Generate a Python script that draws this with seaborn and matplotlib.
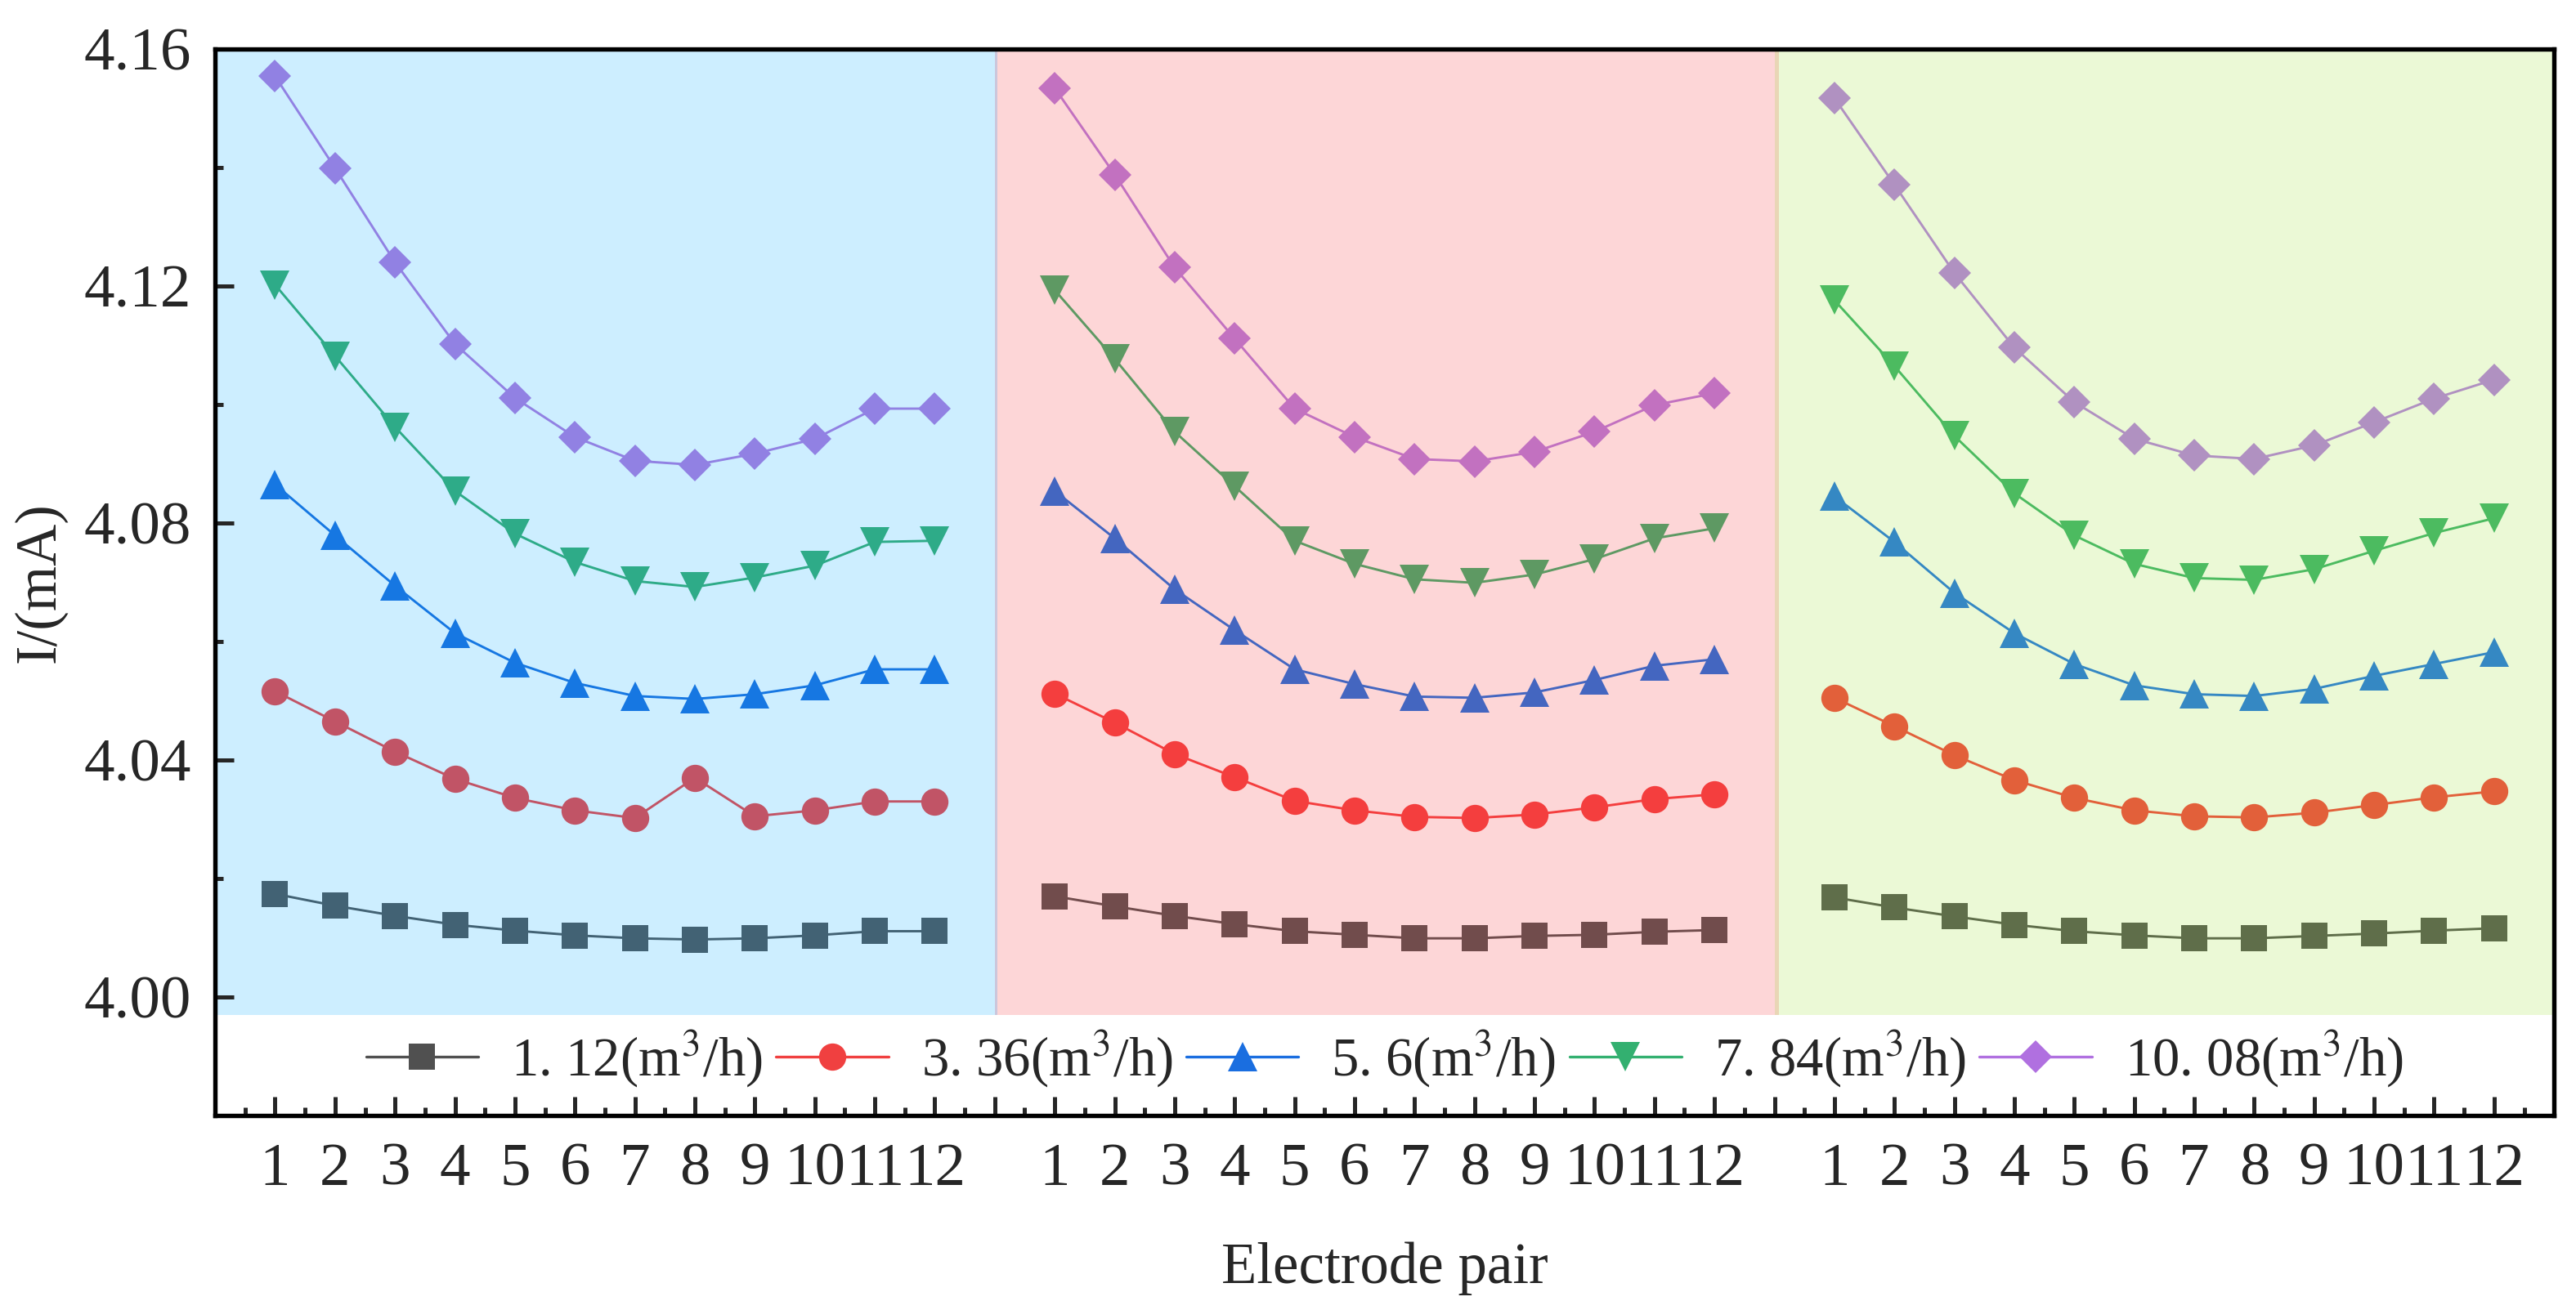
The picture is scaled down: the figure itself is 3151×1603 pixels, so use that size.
import numpy as np
import pandas as pd
import matplotlib
matplotlib.use("Agg")
import matplotlib.pyplot as plt
from matplotlib.lines import Line2D
from matplotlib.ticker import MultipleLocator
import seaborn as sns

# datos: 3 bloques de 12 pares de electrodos
electrodos = list(range(1, 13))
caudales = ["1. 12(m$^3$/h)", "3. 36(m$^3$/h)", "5. 6(m$^3$/h)", "7. 84(m$^3$/h)", "10. 08(m$^3$/h)"]

i_112 = [4.0174, 4.0154, 4.0137, 4.0122, 4.0112, 4.0104, 4.0099, 4.0097, 4.0099, 4.0104, 4.0111, 4.0111,
         4.0170, 4.0153, 4.0137, 4.0123, 4.0111, 4.0105, 4.0099, 4.0099, 4.0103, 4.0105, 4.0110, 4.0113,
         4.0168, 4.0151, 4.0136, 4.0122, 4.0111, 4.0104, 4.0099, 4.0099, 4.0103, 4.0107, 4.0112, 4.0116]
i_336 = [4.0516, 4.0465, 4.0414, 4.0368, 4.0336, 4.0315, 4.0302, 4.0370, 4.0305, 4.0315, 4.0330, 4.0330,
         4.0512, 4.0463, 4.0410, 4.0371, 4.0331, 4.0315, 4.0304, 4.0302, 4.0308, 4.0320, 4.0334, 4.0342,
         4.0505, 4.0457, 4.0408, 4.0366, 4.0336, 4.0315, 4.0305, 4.0303, 4.0311, 4.0324, 4.0337, 4.0347]
i_560 = [4.0865, 4.0779, 4.0694, 4.0614, 4.0564, 4.0530, 4.0508, 4.0503, 4.0511, 4.0526, 4.0553, 4.0553,
         4.0854, 4.0774, 4.0688, 4.0619, 4.0553, 4.0528, 4.0507, 4.0505, 4.0514, 4.0535, 4.0559, 4.0570,
         4.0845, 4.0768, 4.0682, 4.0614, 4.0562, 4.0526, 4.0511, 4.0508, 4.0520, 4.0542, 4.0562, 4.0582]
i_784 = [4.1202, 4.1082, 4.0962, 4.0854, 4.0782, 4.0734, 4.0702, 4.0692, 4.0708, 4.0728, 4.0768, 4.0770,
         4.1193, 4.1077, 4.0954, 4.0862, 4.0770, 4.0731, 4.0705, 4.0699, 4.0713, 4.0739, 4.0774, 4.0791,
         4.1176, 4.1065, 4.0947, 4.0850, 4.0779, 4.0731, 4.0707, 4.0704, 4.0722, 4.0753, 4.0783, 4.0808]
i_1008 = [4.1554, 4.1399, 4.1240, 4.1102, 4.1011, 4.0945, 4.0905, 4.0898, 4.0917, 4.0942, 4.0993, 4.0993,
          4.1534, 4.1388, 4.1231, 4.1111, 4.0993, 4.0945, 4.0908, 4.0904, 4.0920, 4.0954, 4.0999, 4.1019,
          4.1517, 4.1371, 4.1222, 4.1096, 4.1004, 4.0942, 4.0914, 4.0908, 4.0931, 4.0970, 4.1010, 4.1042]
series = [i_112, i_336, i_560, i_784, i_1008]

# tabla larga para seaborn
filas = []
for nombre, valores in zip(caudales, series):
    for k in range(3):
        for j, e in enumerate(electrodos):
            filas.append({"caudal": nombre, "bloque": k, "pos": 13 * k + e, "I": valores[12 * k + j]})
df = pd.DataFrame(filas)

# estilos
marcadores = ["s", "o", "^", "v", "D"]
tam_marc = [7.5, 8, 8.8, 8.8, 6.8]
colores_leyenda = ["#505050", "#f04040", "#1a6ee0", "#33b070", "#b070e0"]
colores_bloque = [
    ["#426274", "#c15466", "#1677e2", "#2eab88", "#9181e3"],
    ["#714c4c", "#f43e3e", "#4466c0", "#5e9963", "#c271c0"],
    ["#5f6e4a", "#e2603a", "#3588c3", "#4cbb60", "#b091c1"],
]
fondos = ["#cdeeff", "#fdd6d7", "#ebf9d6"]

sns.set_style("ticks")
plt.rcParams["font.family"] = ["Liberation Serif", "DejaVu Serif"]
plt.rcParams["mathtext.fontset"] = "stix"

fig = plt.figure(figsize=(3151 / 300, 1603 / 300), dpi=300)
ax = fig.add_axes([0.0835, 0.1485, 0.908, 0.8141])

# fondos de color por bloque
for k in range(3):
    ax.fill_between([13 * k, 13 * k + 13], 3.997, 4.16, color=fondos[k], lw=0, zorder=0)
ax.fill_between([13, 13.04], 3.997, 4.16, color="#cbc7dc", lw=0, zorder=0)
ax.fill_between([26, 26.08], 3.997, 4.16, color="#e9d6b6", lw=0, zorder=0)

for k in range(3):
    for s, nombre in enumerate(caudales):
        sub = df[(df["bloque"] == k) & (df["caudal"] == nombre)]
        sns.lineplot(data=sub, x="pos", y="I", ax=ax, color=colores_bloque[k][s],
                     marker=marcadores[s], markersize=tam_marc[s], markeredgewidth=0,
                     linewidth=0.7, errorbar=None, legend=False, zorder=3)

ax.set_xlim(0, 39)
ax.set_ylim(3.98, 4.16)

# ticks del eje x: todos los enteros, etiquetas solo en los pares de electrodos
pos_ticks = list(range(0, 40))
etiquetas = []
for p in pos_ticks:
    r = p % 13
    etiquetas.append(str(r) if r != 0 else "")
ax.set_xticks(pos_ticks)
ax.set_xticklabels(etiquetas)
ax.xaxis.set_minor_locator(MultipleLocator(0.5))
ax.set_yticks([4.00, 4.04, 4.08, 4.12, 4.16])
ax.set_yticklabels(["4.00", "4.04", "4.08", "4.12", "4.16"])
ax.yaxis.set_minor_locator(MultipleLocator(0.02))

ax.tick_params(which="both", direction="in", width=1.2, top=False, right=False, labelsize=18)
ax.tick_params(which="major", length=5.6)
ax.tick_params(which="minor", length=2.5)
ax.tick_params(axis="x", pad=8)
ax.tick_params(axis="y", pad=7)
for sp in ax.spines.values():
    sp.set_linewidth(1.3)
    sp.set_color("black")

ax.set_xlabel("Electrode pair", fontsize=17, labelpad=13)
ax.set_ylabel("I/(mA)", fontsize=17, labelpad=5)

handles = [Line2D([], [], color=c, marker=m, markersize=ms, markeredgewidth=0, linewidth=0.8)
           for c, m, ms in zip(colores_leyenda, marcadores, tam_marc)]
ax.legend(handles, caudales, loc="center", bbox_to_anchor=(0.5, 0.053), ncol=5, frameon=False,
          handlelength=2.06, handletextpad=0.6, columnspacing=0.25, fontsize=16, borderaxespad=0)

fig.savefig("out.png", dpi=300)
